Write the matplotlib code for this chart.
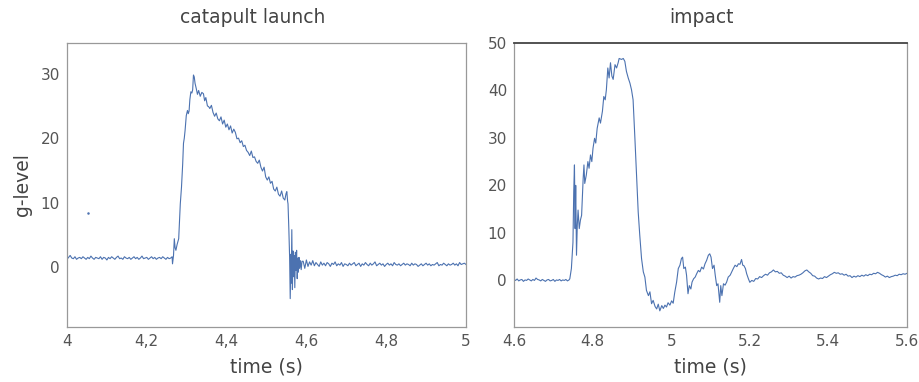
import numpy as np
import matplotlib.pyplot as plt

# ---- catapult launch (left) ----
# quiet baseline before launch, sampled every 4 ms from t=4.000
launch_pre = [1.2, 1.5, 1.8, 1.4, 1.3, 1.6, 1.2, 1.4, 1.5, 1.3,
              1.6, 1.4, 1.2, 1.5, 1.3, 1.7, 1.4, 1.2, 1.5, 1.4,
              1.3, 1.6, 1.2, 1.5, 1.4, 1.1, 1.5, 1.3, 1.6, 1.4,
              1.2, 1.5, 1.7, 1.3, 1.4, 1.2, 1.6, 1.4, 1.3, 1.5,
              1.2, 1.4, 1.6, 1.3, 1.5, 1.2, 1.4, 1.7, 1.3, 1.4,
              1.5, 1.2, 1.4, 1.6, 1.3, 1.5, 1.2, 1.4, 1.5, 1.3,
              1.6, 1.4, 1.2, 1.5, 1.3, 1.4]

# launch pulse
launch_t = [4.2635, 4.2645, 4.267, 4.269, 4.271, 4.273, 4.276, 4.280, 4.282, 4.284,
            4.287, 4.290, 4.292, 4.294, 4.296, 4.299, 4.302, 4.304, 4.306, 4.308,
            4.3105, 4.313, 4.315, 4.317, 4.319, 4.321, 4.324, 4.327, 4.330, 4.334,
            4.338, 4.342, 4.345, 4.348, 4.352, 4.355, 4.358, 4.362, 4.366, 4.370,
            4.374, 4.378, 4.382, 4.386, 4.390, 4.394, 4.398, 4.402, 4.406, 4.410,
            4.414, 4.418, 4.422, 4.426, 4.430, 4.434, 4.438, 4.442, 4.446, 4.450,
            4.454, 4.458, 4.462, 4.466, 4.470, 4.474, 4.478, 4.482, 4.486, 4.490,
            4.494, 4.498, 4.502, 4.506, 4.510, 4.514, 4.518, 4.522, 4.526, 4.530,
            4.534, 4.538, 4.542, 4.546, 4.549, 4.551, 4.553, 4.554, 4.556, 4.558,
            4.5595, 4.5605, 4.5615, 4.562, 4.5635, 4.565, 4.5665, 4.568, 4.5695, 4.571,
            4.5725, 4.574, 4.5755, 4.577, 4.5785, 4.580, 4.5815, 4.583, 4.585, 4.587,
            4.589]
launch_g = [1.6, 0.5, 1.8, 4.4, 3.0, 2.6, 3.5, 4.4, 7.0, 9.8,
            12.4, 16.0, 19.2, 20.0, 21.2, 23.5, 24.3, 23.8, 24.2, 26.0,
            27.2, 27.0, 27.5, 29.8, 29.5, 28.5, 27.7, 26.8, 27.4, 26.5,
            27.1, 26.9, 25.8, 26.3, 25.0, 24.9, 24.6, 25.1, 24.0, 23.4,
            23.9, 23.0, 22.7, 23.3, 22.2, 22.8, 21.7, 22.2, 21.3, 21.9,
            20.8, 21.4, 20.9, 19.9, 20.0, 19.3, 19.6, 18.7, 18.9, 18.1,
            17.8, 17.3, 18.0, 17.0, 17.1, 16.4, 16.1, 16.6, 15.5, 14.9,
            15.5, 14.0, 13.5, 14.0, 13.0, 13.3, 12.1, 11.8, 12.4, 11.3,
            11.0, 11.8, 10.7, 10.4, 11.4, 11.7, 10.2, 9.8, 6.0, 1.5,
            -4.9, -1.0, 2.0, -2.5, 5.8, -3.5, 2.5, -1.5, 1.8, -3.2,
            2.3, -0.5, 2.6, -1.8, 1.4, -0.8, 1.5, -0.2, 1.0, -0.4,
            0.9]

# settled after launch, every 4 ms from t=4.592
launch_post = [0.9, -0.2, 1.1, 0.1, 0.8, 0.3, 1.0, 0.2, 0.7, 0.4,
               0.1, 0.8, 0.3, 0.6, 0.2, 0.7, 0.5, 0.1, 0.6, 0.4,
               0.8, 0.2, 0.5, 0.3, 0.7, 0.1, 0.5, 0.4, 0.2, 0.6,
               0.3, 0.5, 0.7, 0.2, 0.4, 0.6, 0.1, 0.5, 0.3, 0.7,
               0.4, 0.2, 0.6, 0.3, 0.5, 0.8, 0.2, 0.4, 0.6, 0.3,
               0.5, 0.1, 0.4, 0.6, 0.3, 0.5, 0.2, 0.7, 0.4, 0.3,
               0.5, 0.2, 0.4, 0.6, 0.3, 0.5, 0.4, 0.2, 0.6, 0.3,
               0.5, 0.4, 0.1, 0.3, 0.5, 0.2, 0.4, 0.6, 0.3, 0.5,
               0.2, 0.4, 0.3, 0.5, 0.7, 0.2, 0.4, 0.3, 0.6, 0.4,
               0.2, 0.5, 0.3, 0.4, 0.6, 0.3, 0.5, 0.2, 0.7, 0.4,
               0.5, 0.6, 0.4]

# ---- impact (right) ----
impact_pre = [0.2, 0.0, 0.3, -0.1, 0.1, 0.2, -0.2, 0.1, 0.0, 0.3,
              0.1, -0.1, 0.2, 0.0, 0.5, 0.2, 0.1, -0.1, 0.2, 0.0,
              -0.2, 0.1, 0.2, -0.1, 0.0, 0.2, -0.2, 0.1, 0.0, 0.2,
              -0.1, 0.1, 0.0, 0.2, -0.1, 0.1]

impact_t = [4.742, 4.746, 4.750, 4.752, 4.7538, 4.7555, 4.757, 4.759, 4.761, 4.763,
            4.766, 4.769, 4.772, 4.776, 4.778, 4.780, 4.784, 4.788, 4.791, 4.7946,
            4.798, 4.801, 4.805, 4.808, 4.8116, 4.8167, 4.820, 4.825, 4.8285, 4.832,
            4.835, 4.8387, 4.842, 4.8455, 4.849, 4.8523, 4.857, 4.861, 4.865, 4.8675,
            4.8736, 4.878, 4.882, 4.886, 4.8906, 4.895, 4.899, 4.903, 4.9076, 4.912,
            4.916, 4.920, 4.9245, 4.929, 4.933, 4.937, 4.942, 4.9458, 4.950, 4.954,
            4.959, 4.963, 4.967, 4.971, 4.976, 4.980, 4.984, 4.988, 4.992, 4.9967,
            5.001, 5.005, 5.009, 5.0137, 5.018, 5.0222, 5.026, 5.029, 5.032, 5.036,
            5.039, 5.0427, 5.046, 5.050, 5.053, 5.057, 5.061, 5.0647, 5.069, 5.073,
            5.0775, 5.082, 5.086, 5.090, 5.0945, 5.098, 5.1013, 5.105, 5.109, 5.112,
            5.1157, 5.119, 5.1234, 5.126, 5.129, 5.133, 5.137, 5.141, 5.145, 5.150,
            5.154, 5.158, 5.1625, 5.167, 5.171, 5.175, 5.179, 5.182, 5.185, 5.1888,
            5.192, 5.1964]
impact_g = [0.35, 2.5, 8.0, 18.7, 24.3, 10.9, 20.0, 5.3, 11.6, 14.8,
            10.9, 12.7, 13.7, 21.5, 24.3, 20.4, 22.2, 25.0, 23.6, 26.4,
            25.0, 27.8, 29.9, 28.9, 32.0, 34.2, 33.1, 35.6, 38.7, 38.0,
            40.1, 44.7, 42.6, 45.8, 43.0, 42.3, 45.4, 44.7, 45.8, 46.7,
            46.5, 46.7, 46.1, 44.0, 42.6, 41.5, 40.1, 38.0, 29.9, 21.5,
            14.4, 9.5, 4.6, 1.8, 0.7, -2.1, -3.2, -2.4, -4.9, -4.2,
            -5.5, -6.0, -5.0, -6.4, -5.3, -5.9, -5.2, -5.6, -4.7, -5.2,
            -4.3, -4.8, -2.5, -0.35, 2.5, 3.2, 4.6, 4.9, 2.5, 2.8,
            1.1, -2.8, -1.1, -1.8, -0.35, 0.35, 0.7, 1.4, 2.1, 1.8,
            2.8, 2.4, 3.5, 4.2, 5.3, 5.6, 4.9, 2.5, 3.2, 1.1,
            -1.1, -0.7, -4.6, -1.1, -3.2, -0.7, -1.0, -0.35, 0.7, 1.1,
            1.8, 2.5, 3.2, 2.9, 3.5, 3.4, 4.4, 3.2, 3.1, 2.5,
            1.4, 0.35]

# ringing tail, every 5 ms from t=5.200
impact_post = [-0.4, 0.0, -0.2, 0.4, 0.3, 0.8, 0.6, 1.0, 1.3, 1.1,
               1.6, 1.8, 2.2, 1.8, 1.9, 1.5, 1.6, 1.1, 0.9, 0.6,
               0.9, 0.5, 0.8, 0.7, 1.0, 1.1, 1.3, 1.6, 2.0, 2.2,
               1.8, 1.5, 1.0, 0.9, 0.5, 0.3, 0.5, 0.4, 0.8, 0.6,
               0.9, 1.2, 1.4, 1.7, 1.5, 1.6, 1.3, 1.4, 1.1, 1.3,
               0.9, 1.0, 0.6, 0.9, 0.7, 1.0, 0.8, 1.1, 0.9, 1.2,
               1.0, 1.3, 1.2, 1.5, 1.4, 1.7, 1.5, 1.2, 1.0, 0.7,
               0.9, 0.6, 0.8, 0.9, 1.1, 1.0, 1.3, 1.2, 1.4, 1.3,
               1.5]

t_left = np.concatenate([4.0 + 0.004 * np.arange(len(launch_pre)), launch_t,
                         4.592 + 0.004 * np.arange(len(launch_post))])
g_left = np.concatenate([launch_pre, launch_g, launch_post])
t_right = np.concatenate([4.6 + 0.004 * np.arange(len(impact_pre)), impact_t,
                          5.2 + 0.005 * np.arange(len(impact_post))])
g_right = np.concatenate([impact_pre, impact_g, impact_post])

left_ticks = [4.0, 4.2, 4.4, 4.6, 4.8, 5.0]
left_labels = ['4', '4,2', '4,4', '4,6', '4,8', '5']
right_ticks = [4.6, 4.8, 5.0, 5.2, 5.4, 5.6]
right_labels = ['4.6', '4.8', '5', '5.2', '5.4', '5.6']

line_col = '#4c72b0'
txt_col = '#444444'

fig = plt.figure(figsize=(9.2, 3.82), dpi=100)
ax1 = fig.add_axes([0.0728, 0.144, 0.4337, 0.744])
ax2 = fig.add_axes([0.5587, 0.144, 0.4272, 0.744])

ax1.plot(t_left, g_left, color=line_col, lw=0.8)
ax1.plot([4.052], [8.4], 'o', color=line_col, ms=0.8)
ax2.plot(t_right, g_right, color=line_col, lw=0.8)

ax1.set_xlim(4.0, 5.0)
ax1.set_ylim(-9.3, 34.8)
ax1.set_yticks([0, 10, 20, 30])
ax1.set_xticks(left_ticks)
ax1.set_xticklabels(left_labels)
ax1.set_ylabel('g-level', fontsize=13.5, color=txt_col, labelpad=6)

ax2.set_xlim(4.6, 5.6)
ax2.set_ylim(-9.8, 50)
ax2.set_yticks([0, 10, 20, 30, 40, 50])
ax2.set_xticks(right_ticks)
ax2.set_xticklabels(right_labels)

for ax, title, tx in [(ax1, 'catapult launch', 0.465), (ax2, 'impact', 0.477)]:
    ax.set_title(title, fontsize=13.5, color=txt_col, x=tx, pad=14)
    ax.set_xlabel('time (s)', fontsize=13.5, color=txt_col, labelpad=6)
    ax.tick_params(length=0, pad=5, labelsize=11, colors='#555555')
    for s in ax.spines.values():
        s.set_color('#999999')
        s.set_linewidth(0.9)

ax2.spines['top'].set_color('#444444')
ax2.spines['top'].set_linewidth(1.3)

plt.savefig('out.png', dpi=100)
